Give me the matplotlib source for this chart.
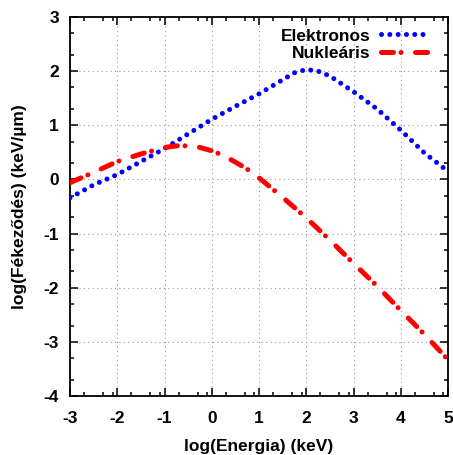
import matplotlib
matplotlib.use("Agg")
import matplotlib.pyplot as plt
from matplotlib.ticker import FixedLocator

# log(E) [keV] -> log(stopping) [keV/um]
elec_x = [-3, -2.5, -2, -1.5, -1, -0.5, 0, 0.5, 1, 1.5, 1.75, 2, 2.25, 2.5, 3, 3.5, 4, 4.5, 5]
elec_y = [-0.34, -0.10, 0.09, 0.33, 0.57, 0.84, 1.11, 1.35, 1.58, 1.84, 1.97, 2.03, 2.00, 1.91,
          1.62, 1.30, 0.91, 0.49, 0.15]

nucl_x = [-3, -2.5, -2, -1.5, -1, -0.75, -0.5, -0.25, 0, 0.25, 0.5, 0.75, 1, 1.5, 2, 2.5, 3,
          3.5, 4, 4.5, 5]
nucl_y = [-0.06, 0.13, 0.33, 0.47, 0.59, 0.62, 0.62, 0.59, 0.53, 0.44, 0.32, 0.19, 0.03, -0.33,
          -0.71, -1.12, -1.55, -1.97, -2.42, -2.86, -3.33]

x_ticks = [-3, -2, -1, 0, 1, 2, 3, 4, 5]
y_ticks = [-4, -3, -2, -1, 0, 1, 2, 3]

FS = 12.5
plt.rcParams["font.family"] = ["Liberation Sans", "DejaVu Sans"]
plt.rcParams["font.weight"] = "bold"
plt.rcParams["font.size"] = FS

fig = plt.figure(figsize=(4.53, 4.55), dpi=100)
ax = fig.add_axes([70 / 453, 59 / 455, 378 / 453, 379 / 455])

lw = 3.6
ax.plot(elec_x, elec_y, color="#0000ff", lw=lw, linestyle=(0, (0.01, 1.65)),
        dash_capstyle="round", label="Elektronos", zorder=3)
ax.plot(nucl_x, nucl_y, color="#ff0000", lw=lw, linestyle=(0, (2.4, 1.5, 0.01, 2.9)),
        dash_capstyle="round", label="Nukleáris", zorder=3)

ax.set_xlim(-3, 5)
ax.set_ylim(-4, 3)
ax.set_xticks(x_ticks)
ax.set_yticks(y_ticks)
ax.set_xticklabels([str(v) for v in x_ticks])
ax.set_yticklabels([str(v) for v in y_ticks])

# minor ticks as in the original gnuplot figure
ax.xaxis.set_minor_locator(FixedLocator([m + d for m in x_ticks[:-1] for d in (0.3, 0.7, 0.9)]))
ax.yaxis.set_minor_locator(FixedLocator([m + d for m in y_ticks[:-1] for d in (0.3, 0.7)]))

ax.tick_params(which="both", direction="in", top=True, right=True, width=1.1)
ax.tick_params(which="major", length=6, labelsize=FS)
ax.tick_params(axis="x", which="major", pad=11)
ax.tick_params(axis="y", which="major", pad=8)
ax.tick_params(which="minor", length=3)
for spine in ax.spines.values():
    spine.set_linewidth(1.3)

ax.grid(True, which="major", color="#999999", linestyle=(0, (1, 3)), linewidth=0.8)

ax.set_xlabel("log(Energia) (keV)", fontweight="bold", labelpad=9.5)
ax.set_ylabel("log(Fékeződés) (keV/µm)", fontweight="bold", labelpad=12)

ax.legend(loc="upper right", bbox_to_anchor=(0.947, 0.97), frameon=False, markerfirst=False,
          handlelength=2.7, handletextpad=0.6, labelspacing=0.12, borderpad=0,
          borderaxespad=0, prop={"weight": "bold", "size": FS})

fig.savefig("out.png", dpi=100)
